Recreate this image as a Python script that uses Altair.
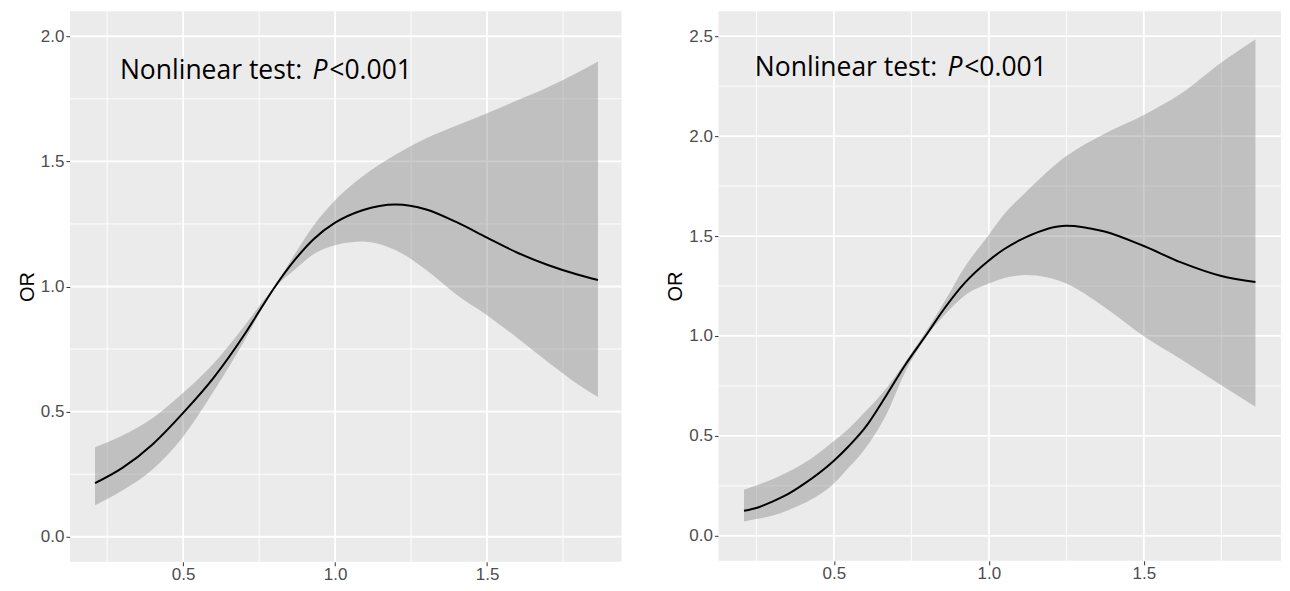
import altair as alt
import pandas as pd

# ---- Left panel data (OR curve with 95% CI band) ----
x_left = [0.21, 0.30, 0.40, 0.50, 0.60, 0.70, 0.76, 0.80, 0.87, 0.93, 1.00, 1.09,
          1.20, 1.30, 1.40, 1.50, 1.60, 1.70, 1.80, 1.865]
or_left = [0.214, 0.275, 0.37, 0.495, 0.635, 0.805, 0.92, 0.995, 1.11, 1.19, 1.255, 1.305,
           1.328, 1.308, 1.257, 1.195, 1.135, 1.086, 1.047, 1.026]
hi_left = [0.358, 0.405, 0.475, 0.575, 0.692, 0.84, 0.938, 1.0, 1.135, 1.245, 1.345, 1.44,
           1.527, 1.592, 1.643, 1.692, 1.744, 1.796, 1.856, 1.899]
lo_left = [0.126, 0.185, 0.27, 0.40, 0.58, 0.78, 0.912, 0.99, 1.07, 1.13, 1.165, 1.18,
           1.145, 1.066, 0.967, 0.885, 0.794, 0.698, 0.608, 0.558]

# ---- Right panel data ----
x_right = [0.21, 0.255, 0.30, 0.35, 0.40, 0.50, 0.55, 0.60, 0.67, 0.73, 0.80, 0.86, 0.92,
           1.00, 1.05, 1.12, 1.25, 1.37, 1.50, 1.62, 1.75, 1.86]
or_right = [0.125, 0.142, 0.17, 0.207, 0.256, 0.376, 0.452, 0.54, 0.705, 0.855, 1.01, 1.145,
            1.262, 1.378, 1.435, 1.495, 1.552, 1.524, 1.45, 1.368, 1.30, 1.27]
hi_right = [0.231, 0.255, 0.282, 0.318, 0.36, 0.475, 0.54, 0.619, 0.74, 0.87, 1.03, 1.18,
            1.34, 1.507, 1.61, 1.72, 1.90, 2.01, 2.106, 2.213, 2.369, 2.484]
lo_right = [0.072, 0.085, 0.10, 0.127, 0.16, 0.262, 0.345, 0.435, 0.61, 0.82, 1.00, 1.11,
            1.20, 1.262, 1.29, 1.305, 1.262, 1.147, 0.999, 0.884, 0.753, 0.646]

# ---- Axis / grid values ----
x_major = [0.5, 1.0, 1.5]
x_minor = [0.25, 0.75, 1.25, 1.75]
y_major_left = [0.0, 0.5, 1.0, 1.5, 2.0]
y_minor_left = [0.25, 0.75, 1.25, 1.75]
y_major_right = [0.0, 0.5, 1.0, 1.5, 2.0, 2.5]
y_minor_right = [0.25, 0.75, 1.25, 1.75, 2.25]

x_domain = [0.1275, 1.9425]
y_domain_left = [-0.1, 2.1]
y_domain_right = [-0.125, 2.625]

ann_text = ["Nonlinear test: ", "P", "<0.001"]
ann_left = {"x": 0.292, "y": 1.828}
ann_right = {"x": 0.245, "y": 2.301}

TICK_FONT = "Liberation Sans"


def panel(xs, est, hi, lo, y_major, y_minor, y_domain, ann, width, height):
    df = pd.DataFrame({"x": xs, "est": est, "hi": hi, "lo": lo})
    xs_scale = alt.Scale(domain=x_domain, nice=False, zero=False)
    ys_scale = alt.Scale(domain=y_domain, nice=False, zero=False)

    xaxis = alt.Axis(values=x_major, format=".1f", title=None, grid=False,
                     labelPadding=1)
    yaxis = alt.Axis(values=y_major, format=".1f", title="OR", grid=False,
                     labelPadding=2, titlePadding=3)

    grid_major_x = alt.Chart(pd.DataFrame({"v": x_major})).mark_rule(
        color="white", strokeWidth=1.8).encode(
        x=alt.X("v:Q", scale=xs_scale, axis=xaxis))
    grid_minor_x = alt.Chart(pd.DataFrame({"v": x_minor})).mark_rule(
        color="white", strokeWidth=0.9).encode(
        x=alt.X("v:Q", scale=xs_scale, axis=xaxis))
    grid_major_y = alt.Chart(pd.DataFrame({"v": y_major})).mark_rule(
        color="white", strokeWidth=1.8).encode(
        y=alt.Y("v:Q", scale=ys_scale, axis=yaxis))
    grid_minor_y = alt.Chart(pd.DataFrame({"v": y_minor})).mark_rule(
        color="white", strokeWidth=0.9).encode(
        y=alt.Y("v:Q", scale=ys_scale, axis=yaxis))

    band = alt.Chart(df).mark_area(color="#7F7F7F", opacity=0.4,
                                   interpolate="monotone").encode(
        x=alt.X("x:Q", scale=xs_scale, axis=xaxis),
        y=alt.Y("lo:Q", scale=ys_scale, axis=yaxis),
        y2="hi:Q")
    line = alt.Chart(df).mark_line(color="black", strokeWidth=2,
                                   interpolate="monotone").encode(
        x=alt.X("x:Q", scale=xs_scale, axis=xaxis),
        y=alt.Y("est:Q", scale=ys_scale, axis=yaxis))

    adf = pd.DataFrame({"x": [ann["x"]], "y": [ann["y"]]})
    offsets = [0, 192.7, 209.5]
    styles = ["normal", "italic", "normal"]
    texts = []
    for t, dx, st in zip(ann_text, offsets, styles):
        texts.append(alt.Chart(adf).mark_text(
            text=t, align="left", baseline="alphabetic", font="Open Sans",
            fontSize=26.5, fontStyle=st, color="black", dx=dx).encode(
            x=alt.X("x:Q", scale=xs_scale, axis=xaxis),
            y=alt.Y("y:Q", scale=ys_scale, axis=yaxis)))

    return alt.layer(grid_minor_x, grid_minor_y, grid_major_x, grid_major_y,
                     band, line, *texts).properties(width=width, height=height)


left = panel(x_left, or_left, hi_left, lo_left, y_major_left, y_minor_left,
             y_domain_left, ann_left, 552, 551)
right = panel(x_right, or_right, hi_right, lo_right, y_major_right, y_minor_right,
              y_domain_right, ann_right, 563, 550)

chart = alt.hconcat(left, right, spacing=43).resolve_scale(
    x="independent", y="independent").properties(
    padding={"left": 9, "top": 2, "right": 0, "bottom": 0}
).configure_view(fill="#EBEBEB", strokeWidth=0).configure_axis(
    domain=False, tickColor="#333333", tickSize=4, tickWidth=1,
    labelColor="#4D4D4D", labelFont=TICK_FONT, labelFontSize=17,
    titleFont=TICK_FONT, titleFontSize=20, titleFontWeight="normal",
    titleColor="black")

chart.save("out.html", embed_options={"renderer": "svg", "actions": False})
